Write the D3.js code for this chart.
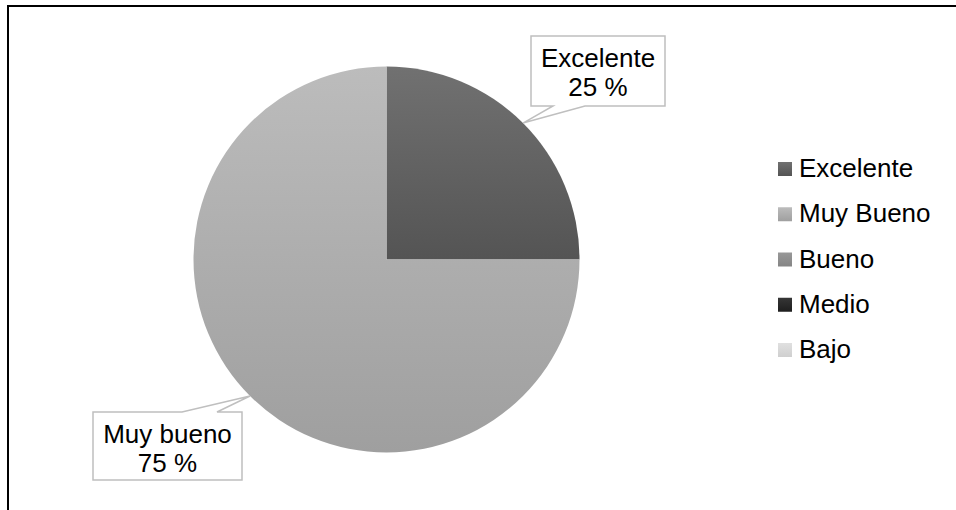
<!DOCTYPE html>
<html>
<head>
<meta charset="utf-8">
<script src="https://cdn.jsdelivr.net/npm/d3@7"></script>
<style>
html,body{margin:0;padding:0;background:#fff;}
svg{display:block;}
text{font-family:"Liberation Sans",Arial,sans-serif;fill:#000;}
</style>
</head>
<body>
<svg id="chart" width="956" height="510"></svg>
<script>
const categories = ["Excelente", "Muy Bueno", "Bueno", "Medio", "Bajo"];
const values = [25, 75, 0, 0, 0];
const labelNames = ["Excelente", "Muy bueno", "Bueno", "Medio", "Bajo"];
const colorsTop = ["#717171", "#bcbcbc", "#989898", "#363636", "#e0e0e0"];
const colorsBottom = ["#545454", "#9f9f9f", "#858585", "#1e1e1e", "#cfcfcf"];

const svg = d3.select("#chart");
const W = 956, H = 510;

// outer frame
svg.append("rect").attr("x", 8).attr("y", 6).attr("width", W + 20).attr("height", H + 20)
  .attr("fill", "#fff").attr("stroke", "#000").attr("stroke-width", 2);

const defs = svg.append("defs");
categories.forEach((c, i) => {
  const g = defs.append("linearGradient").attr("id", "grad" + i)
    .attr("x1", 0).attr("y1", 0).attr("x2", 0).attr("y2", 1);
  g.append("stop").attr("offset", "0%").attr("stop-color", colorsTop[i]);
  g.append("stop").attr("offset", "100%").attr("stop-color", colorsBottom[i]);
});

const cx = 386.5, cy = 259.5, R = 193;
const pie = d3.pie().sort(null).value(d => d)(values);
const arc = d3.arc().innerRadius(0).outerRadius(R);

const gPie = svg.append("g").attr("transform", `translate(${cx},${cy})`);
gPie.selectAll("path").data(pie.filter(d => d.value > 0)).enter().append("path")
  .attr("d", arc)
  .attr("fill", d => `url(#grad${d.index})`);

// callout labels
const callouts = [
  {i: 0, box: [531, 36, 134, 70], side: "bottom", base: [22, 54]},
  {i: 1, box: [93, 412, 149, 68], side: "top", base: [89, 124]}
];
const total = d3.sum(values);
callouts.forEach(co => {
  const d = pie[co.i];
  const mid = (d.startAngle + d.endAngle) / 2;
  const tipX = cx + Math.sin(mid) * R;
  const tipY = cy - Math.cos(mid) * R;
  const [bx, by, bw, bh] = co.box;
  let pts;
  if (co.side === "bottom") {
    const yb = by + bh;
    pts = [[bx, by], [bx + bw, by], [bx + bw, yb], [bx + co.base[1], yb], [tipX, tipY], [bx + co.base[0], yb], [bx, yb]];
  } else {
    pts = [[bx, by], [bx + co.base[0], by], [tipX, tipY], [bx + co.base[1], by], [bx + bw, by], [bx + bw, by + bh], [bx, by + bh]];
  }
  svg.append("path").attr("d", d3.line()(pts) + "Z")
    .attr("fill", "#fff").attr("stroke", "#bfbfbf").attr("stroke-width", 1.5);
  const pct = Math.round(values[co.i] / total * 100);
  const t = svg.append("text").attr("text-anchor", "middle").attr("font-size", 26);
  t.append("tspan").attr("x", bx + bw / 2).attr("y", by + 31).text(labelNames[co.i]);
  t.append("tspan").attr("x", bx + bw / 2).attr("y", by + 60).text(pct + " %");
});

// legend
const ly = d3.scalePoint().domain(categories).range([169, 350]);
const leg = svg.append("g");
categories.forEach((c, i) => {
  const y = ly(c);
  leg.append("rect").attr("x", 778).attr("y", y - 7).attr("width", 14).attr("height", 14)
    .attr("fill", `url(#grad${i})`);
  leg.append("text").attr("x", 799).attr("y", y + 8).attr("font-size", 26).text(c);
});
</script>
</body>
</html>
